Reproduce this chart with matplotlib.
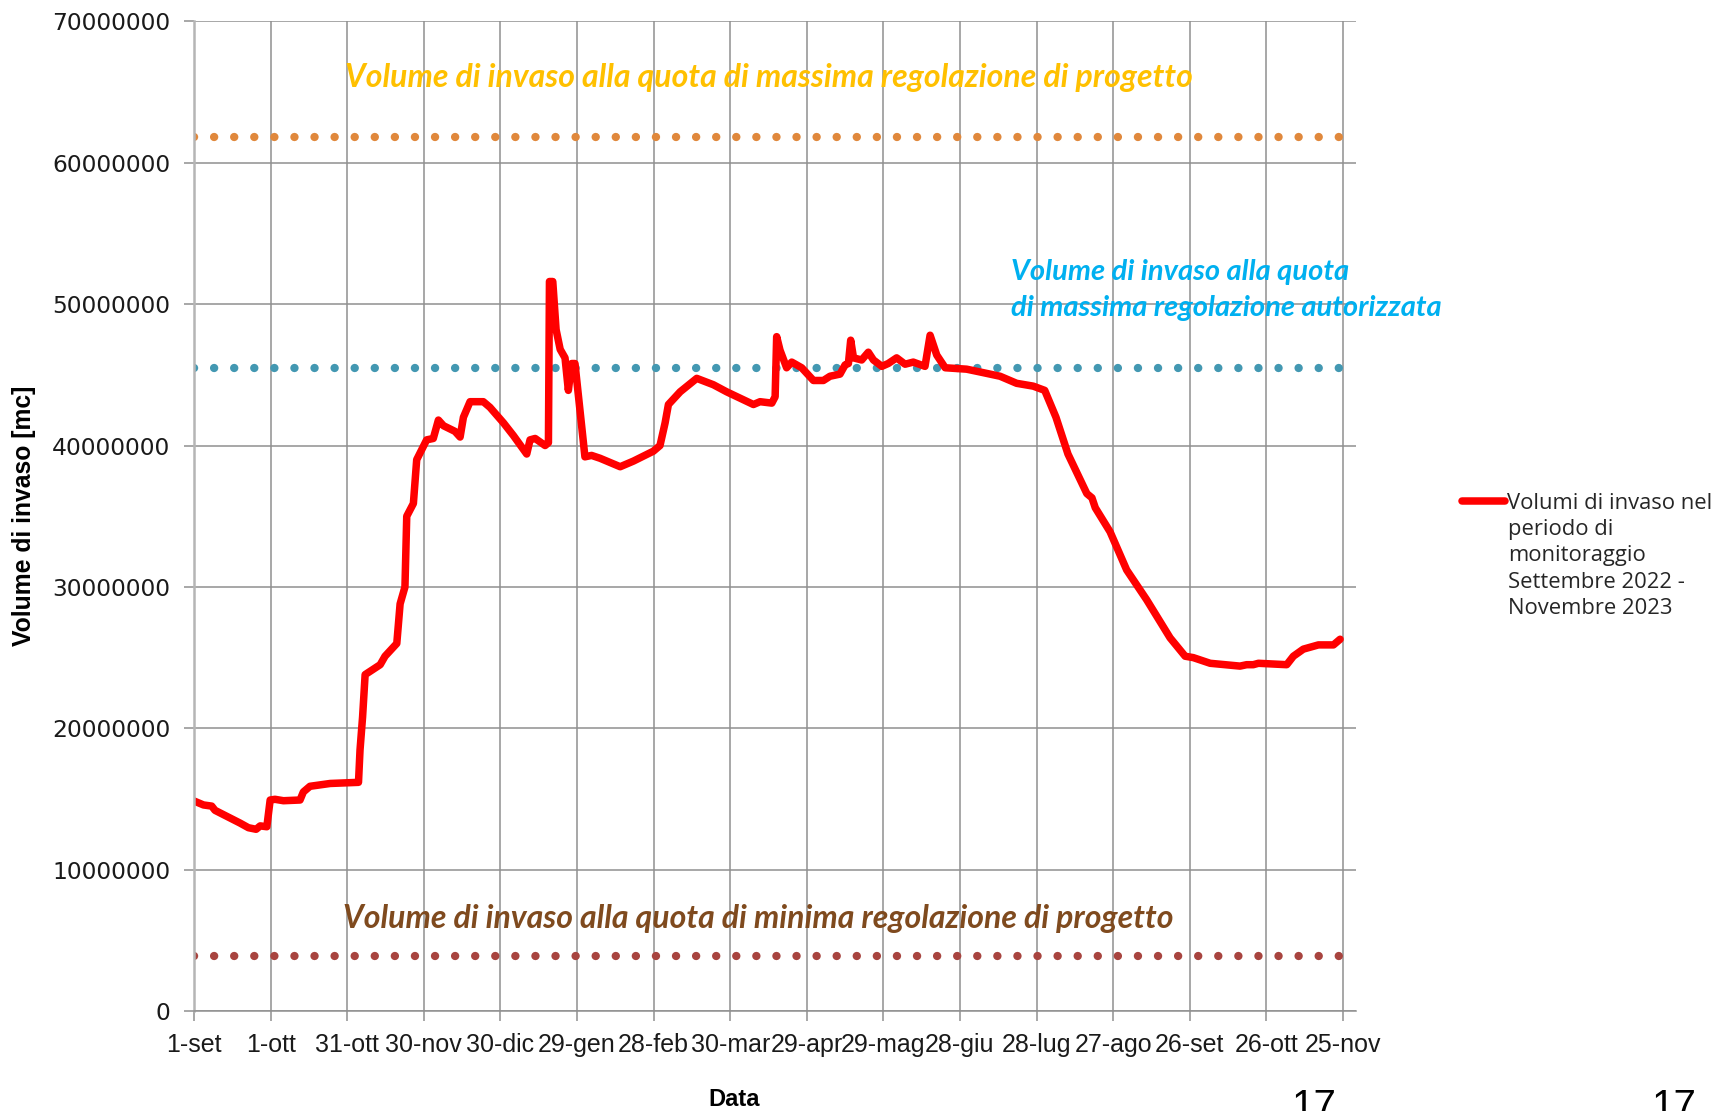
import matplotlib
matplotlib.use("Agg")
import matplotlib.pyplot as plt
from matplotlib import font_manager

# giorni dal 1-set-2022, volumi in mc
giorni = [0, 3.7, 6.9, 8.2, 18.0, 21.3, 24.3, 25.9, 28.5, 29.8, 31.7, 35.0, 41.5, 42.8,
          45.4, 53.3, 64.4, 65.0, 66.0, 67.0, 72.9, 74.8, 79.4, 80.7, 82.6, 83.3, 85.9,
          87.2, 91.1, 93.7, 95.7, 97.7, 102.2, 104.2, 105.5, 108.1, 113.3, 115.9, 121.2,
          125.1, 130.3, 131.6, 133.6, 137.5, 138.8, 139.2, 140.5, 141.8, 143.4, 145.3,
          146.6, 147.9, 149.2, 153.1, 155.7, 159.0, 166.9, 172.1, 179.9, 182.5, 184.5,
          185.8, 190.4, 196.9, 203.4, 208.6, 219.1, 221.7, 226.3, 227.6, 228.2, 229.5,
          232.1, 234.1, 238.0, 242.6, 246.5, 249.1, 253.0, 255.0, 256.3, 257.2, 258.3,
          261.5, 264.1, 266.1, 269.4, 271.9, 275.2, 278.5, 281.7, 286.3, 288.3, 290.9,
          294.2, 302.6, 307.9, 315.7, 322.2, 328.7, 333.2, 337.6, 342.3, 349.7, 351.7,
          353.0, 358.8, 365.3, 373.1, 382.3, 388.2, 391.4, 398.0, 409.7, 412.3, 414.9,
          416.9, 428.0, 430.6, 434.5, 440.4, 446.3, 448.9]
volumi_M = [14.86, 14.58, 14.5, 14.2, 13.3, 12.97, 12.86, 13.1, 13.04, 14.93, 14.98, 14.88,
            14.93, 15.5, 15.9, 16.1, 16.18, 18.47, 20.8, 23.8, 24.5, 25.1, 26.0, 28.8, 30.0,
            35.0, 35.9, 39.0, 40.4, 40.5, 41.8, 41.4, 41.0, 40.6, 42.0, 43.1, 43.1, 42.7,
            41.6, 40.7, 39.4, 40.4, 40.5, 40.0, 40.2, 51.6, 51.6, 48.2, 46.8, 46.2, 43.9,
            45.8, 45.8, 39.2, 39.3, 39.1, 38.5, 38.9, 39.6, 40.0, 41.6, 42.9, 43.8, 44.75,
            44.3, 43.8, 42.9, 43.1, 43.0, 43.45, 47.7, 46.75, 45.5, 45.9, 45.5, 44.6, 44.6,
            44.9, 45.05, 45.7, 45.8, 47.45, 46.2, 46.05, 46.6, 46.05, 45.6, 45.8, 46.2,
            45.75, 45.9, 45.6, 47.8, 46.4, 45.5, 45.4, 45.2, 44.9, 44.4, 44.2, 43.9, 42.0,
            39.4, 36.6, 36.3, 35.6, 33.9, 31.2, 29.1, 26.4, 25.1, 25.0, 24.6, 24.4, 24.5,
            24.5, 24.6, 24.5, 25.1, 25.6, 25.9, 25.9, 26.3]
volumi = [v * 1e6 for v in volumi_M]

# quote di riferimento (mc)
vol_max_progetto = 61800000
vol_max_autorizzata = 45460000
vol_min_progetto = 3920000

tick_giorni = list(range(0, 451, 30))
tick_labels = ["1-set", "1-ott", "31-ott", "30-nov", "30-dic", "29-gen", "28-feb", "30-mar",
               "29-apr", "29-mag", "28-giu", "28-lug", "27-ago", "26-set", "26-ott", "25-nov"]
y_ticks = list(range(0, 70000001, 10000000))
legenda = ["Volumi di invaso nel", "periodo di", "monitoraggio", "Settembre 2022 -",
           "Novembre 2023"]

names = {f.name for f in font_manager.fontManager.ttflist}
narrow = "Liberation Sans Narrow" if "Liberation Sans Narrow" in names else "Liberation Sans"

W, H = 1713, 1111
fig = plt.figure(figsize=(W / 100, H / 100), dpi=100)
ax = fig.add_axes([0.1133, 0.0899, 0.6781, 0.8909])

grid_c = "#8f8f8f"
ax.set_xlim(0, 455)
ax.set_ylim(0, 70000000)
ax.set_xticks(tick_giorni)
ax.set_xticklabels(tick_labels, fontfamily=narrow, fontsize=18, color="#1a1a1a")
ax.set_yticks(y_ticks)
ax.set_yticklabels([str(v) for v in y_ticks], fontfamily="DejaVu Sans", fontsize=16.8,
                   color="#1a1a1a")
ax.grid(True, color=grid_c, linewidth=1.1)
ax.set_axisbelow(True)
ax.tick_params(axis="both", length=7, width=1.1, color=grid_c)
ax.tick_params(axis="x", pad=9)
ax.tick_params(axis="y", pad=10)
for s in ["top", "right"]:
    ax.spines[s].set_visible(False)
ax.spines["left"].set_color("#b5b5b5")
ax.spines["left"].set_linewidth(1.8)
ax.spines["bottom"].set_color(grid_c)
ax.spines["bottom"].set_linewidth(1.1)

dot = (0, (0.01, 2.4))
ax.axhline(vol_max_progetto, color="#E0883C", lw=6.0, ls=dot, dash_capstyle="round")
ax.axhline(vol_max_autorizzata, color="#4398B2", lw=6.0, ls=dot, dash_capstyle="round")
ax.axhline(vol_min_progetto, color="#A8443F", lw=6.0, ls=dot, dash_capstyle="round")

ax.plot(giorni, volumi, color="#FF0000", lw=5.4, solid_joinstyle="round",
        solid_capstyle="round", label=legenda[0])

ann = dict(fontfamily="Lato", fontweight="bold", fontstyle="italic", va="center", ha="left")
ax.text(59.1, 66050000, "Volume di invaso alla quota di massima regolazione di progetto",
        color="#FFC000", fontsize=23, **ann)
ax.text(320.0, 52250000, "Volume di invaso alla quota", color="#00B0F0", fontsize=21, **ann)
ax.text(320.0, 49750000, "di massima regolazione autorizzata", color="#00B0F0",
        fontsize=21, **ann)
ax.text(58.5, 6580000, "Volume di invaso alla quota di minima regolazione di progetto",
        color="#7F4A1E", fontsize=23, **ann)

leg_fs = 15.8
leg = ax.legend(loc="center left", bbox_to_anchor=(1462 / W, 1 - 503.6 / H),
                bbox_transform=fig.transFigure, frameon=False,
                prop={"family": "Open Sans", "size": leg_fs}, handlelength=1.95,
                handletextpad=0.1, borderaxespad=0, borderpad=0)
leg.get_texts()[0].set_color("#262626")
for i, riga in enumerate(legenda[1:], start=1):
    fig.text(1508 / W, 1 - (503.6 + 26.2 * i) / H, riga, ha="left", va="center",
             fontfamily="Open Sans", fontsize=leg_fs, color="#262626")

fig.text(24 / W, 1 - 516 / H, "Volume di invaso [mc]", rotation=90, ha="center",
         va="center", fontfamily=narrow, fontweight="bold", fontsize=17.8)
fig.text(734 / W, 1 - 1100 / H, "Data", ha="center", va="center",
         fontfamily=narrow, fontweight="bold", fontsize=17)
fig.text(1314 / W, -0.006, "17", ha="center", va="baseline",
         fontfamily="Liberation Sans", fontsize=29)
fig.text(1674 / W, -0.006, "17", ha="center", va="baseline",
         fontfamily="Liberation Sans", fontsize=29)

fig.savefig("out.png", dpi=100)
